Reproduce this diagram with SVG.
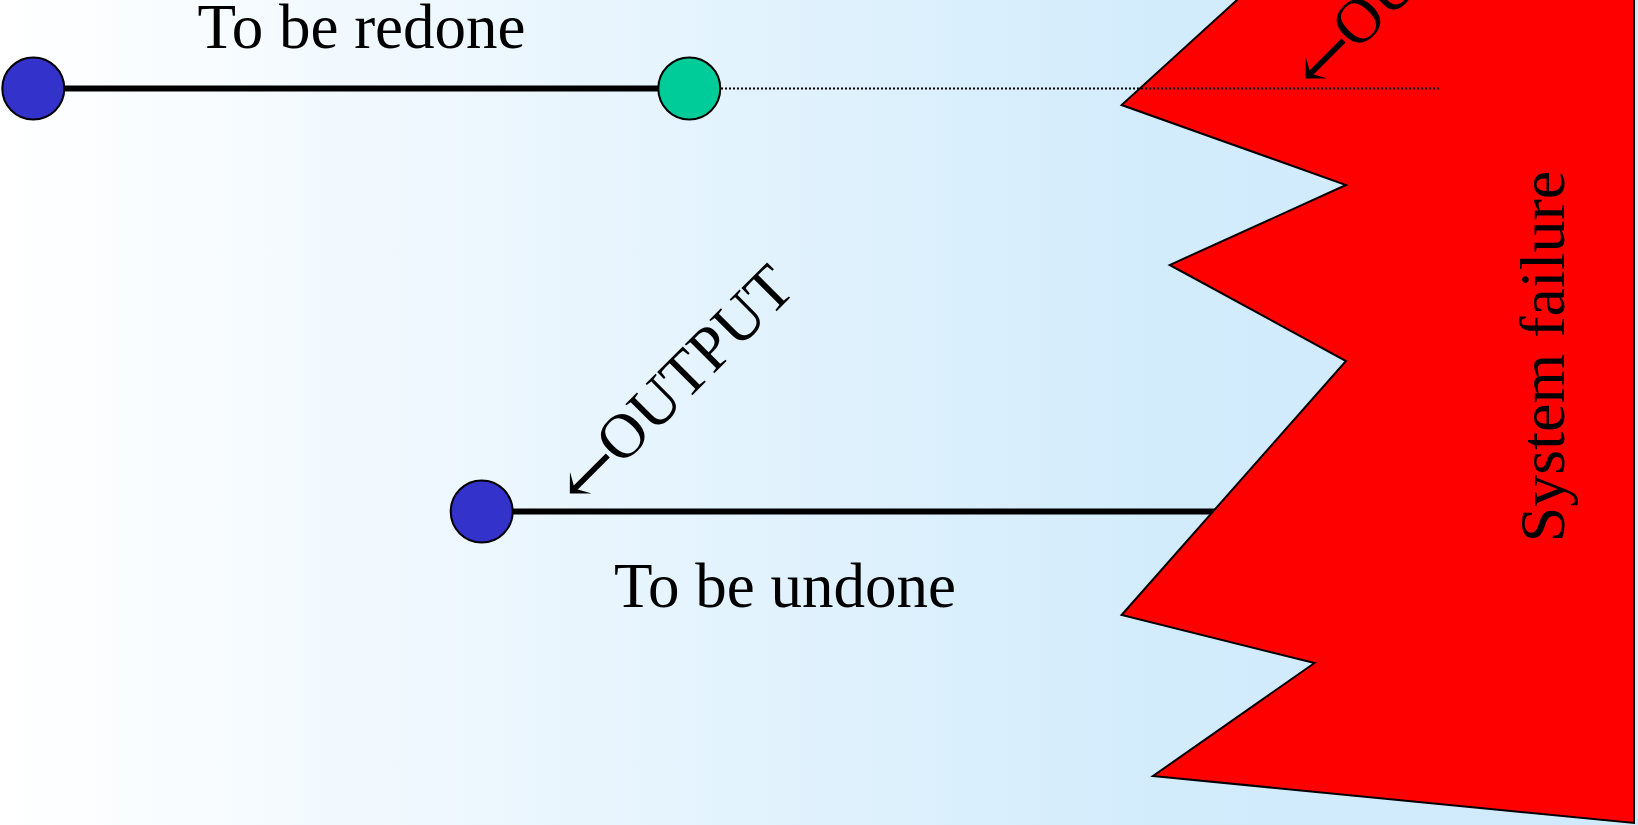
<svg xmlns="http://www.w3.org/2000/svg" width="1638" height="825" viewBox="0 0 1638 825">
  <defs>
    <linearGradient id="bg" x1="0" y1="0" x2="1638" y2="0" gradientUnits="userSpaceOnUse">
      <stop offset="0" stop-color="#ffffff"/>
      <stop offset="0.7" stop-color="#d3ecfc"/>
      <stop offset="1" stop-color="#cfeafb"/>
    </linearGradient>
    <style>
      .lbl { font-family: "Liberation Serif", "Times New Roman", serif; font-size: 63px; fill: #000000; }
      .arr { font-family: "DejaVu Serif", "DejaVu Sans", serif; font-size: 72px; }
      .node { stroke: #000000; stroke-width: 2; }
      .blue { fill: #3333cc; }
      .green { fill: #00cc99; }
      .thick { stroke: #000000; stroke-width: 6; fill: none; }
      .dotted { stroke: #000000; stroke-width: 2; stroke-dasharray: 2 2; fill: none; }
    </style>
  </defs>
  <rect x="0" y="0" width="1638" height="825" fill="url(#bg)"/>

  <g id="connectors-under">
    <line class="thick" x1="482" y1="511.5" x2="1300" y2="511.5"/>
  </g>

  <g id="system-failure">
    <polygon points="1248,-10 1121.6,105 1346,185 1169.7,265 1346,361 1121.6,615 1314.5,663 1153,776 1634,823 1634,-10" fill="#ff0000" stroke="#000000" stroke-width="2" stroke-linejoin="miter"/>
    <text class="lbl" x="1564" y="542.3" font-size="64" style="font-size:64px" transform="rotate(-90 1564 542.3)">System failure</text>
  </g>

  <g id="connectors">
    <line class="thick" x1="33" y1="88.5" x2="689" y2="88.5"/>
    <line class="dotted" x1="721" y1="88.5" x2="1440" y2="88.5"/>
  </g>

  <g id="redo-start">
    <circle class="node blue" cx="33.3" cy="88.5" r="31"/>
  </g>
  <g id="redo-end">
    <circle class="node green" cx="689.3" cy="88.5" r="31"/>
  </g>
  <g id="undo-start">
    <circle class="node blue" cx="481.7" cy="511.5" r="31"/>
  </g>

  <g id="labels">
    <text class="lbl" x="197.6" y="48.3">To be redone</text>
    <text class="lbl" x="614" y="607">To be undone</text>
    <text class="lbl" transform="translate(580.2 507.4) rotate(-45)"><tspan class="arr" x="0" y="6">←</tspan><tspan x="58" y="0">OUTPUT</tspan></text>
    <text class="lbl" transform="translate(1315.9 92.4) rotate(-45)"><tspan class="arr" x="0" y="6">←</tspan><tspan x="58" y="0">OUTPUT</tspan></text>
  </g>
</svg>
